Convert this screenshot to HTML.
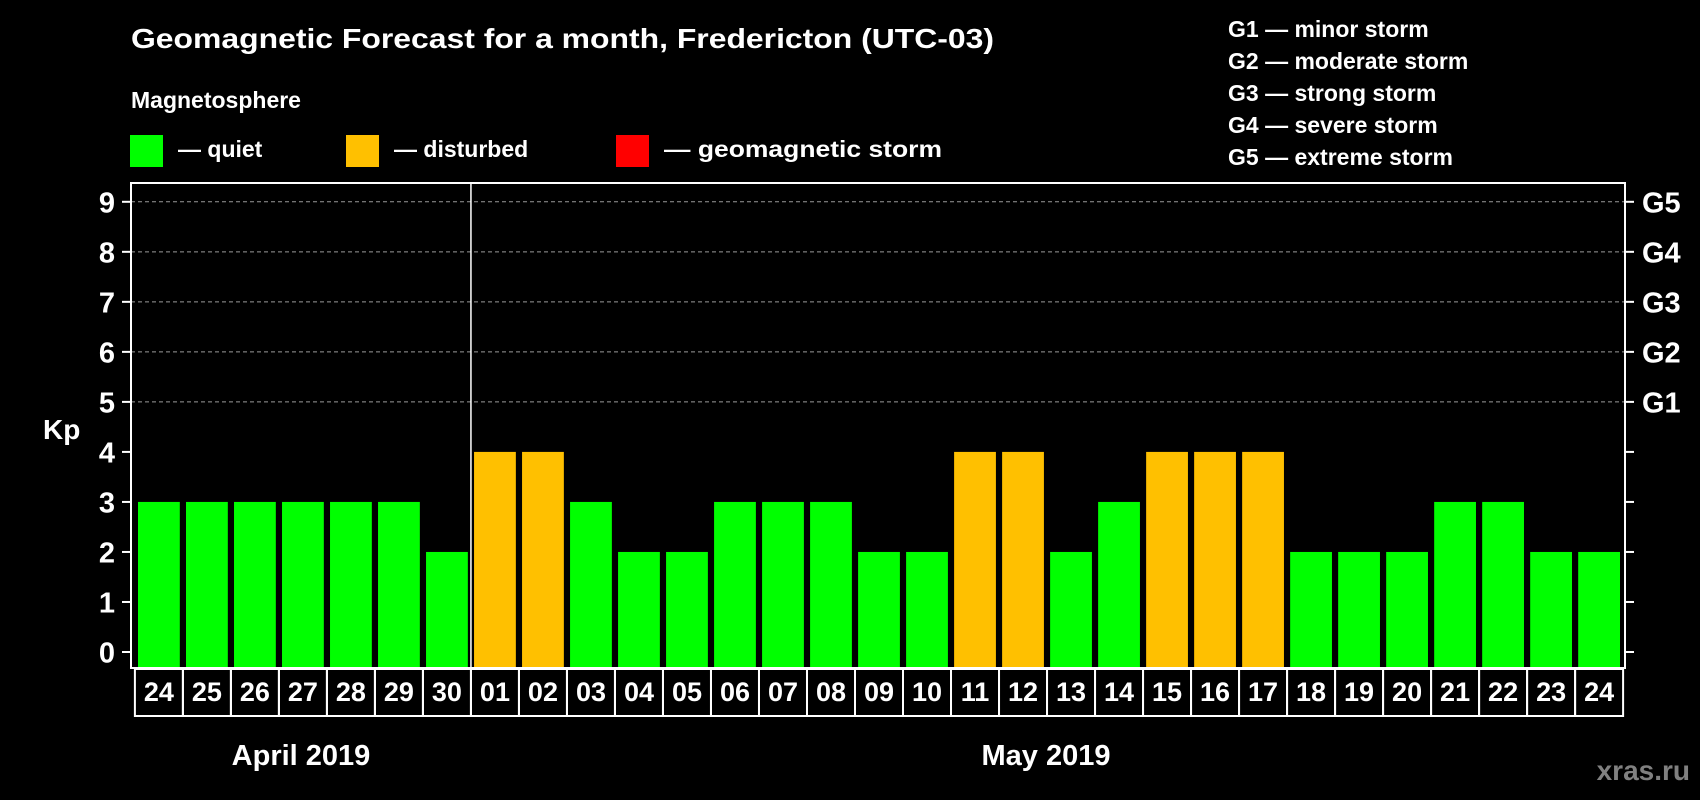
<!DOCTYPE html>
<html><head><meta charset="utf-8"><style>
html,body{margin:0;padding:0;background:#000;}
svg{display:block;font-family:"Liberation Sans",Arial,sans-serif;font-weight:bold;}
</style></head><body>
<svg id="chart" width="1700" height="800" viewBox="0 0 1700 800">
<rect x="0" y="0" width="1700" height="800" fill="#000"/>
<text x="131" y="48" font-size="28" fill="#fff" textLength="863" lengthAdjust="spacingAndGlyphs">Geomagnetic Forecast for a month, Fredericton (UTC-03)</text>
<text x="131" y="108" font-size="23" fill="#fff">Magnetosphere</text>
<g>
<rect x="130" y="135" width="33" height="32" fill="#00ff00"/>
<text x="178" y="157" font-size="23" fill="#fff">— quiet</text>
<rect x="346" y="135" width="33" height="32" fill="#ffc000"/>
<text x="394" y="157" font-size="23" fill="#fff">— disturbed</text>
<rect x="616" y="135" width="33" height="32" fill="#ff0000"/>
<text x="664" y="157" font-size="23" fill="#fff" textLength="278" lengthAdjust="spacingAndGlyphs">— geomagnetic storm</text>
</g>
<g font-size="23" fill="#fff">
<text x="1228" y="37">G1 — minor storm</text>
<text x="1228" y="69">G2 — moderate storm</text>
<text x="1228" y="101">G3 — strong storm</text>
<text x="1228" y="133">G4 — severe storm</text>
<text x="1228" y="165">G5 — extreme storm</text>
</g>
<g id="grid"></g>
<g id="bars"></g>
<g id="axes"></g>
<text x="43" y="439" font-size="28" fill="#fff">Kp</text>
<text x="301" y="765" font-size="29" fill="#fff" text-anchor="middle">April 2019</text>
<text x="1046" y="765" font-size="29" fill="#fff" text-anchor="middle">May 2019</text>
<text x="1690" y="780" font-size="28" fill="#808080" text-anchor="end">xras.ru</text>
</svg>
<script>
const days = ["24","25","26","27","28","29","30","01","02","03","04","05","06","07","08","09","10","11","12","13","14","15","16","17","18","19","20","21","22","23","24"];
const kpValues = [3,3,3,3,3,3,2,4,4,3,2,2,3,3,3,2,2,4,4,2,3,4,4,4,2,2,2,3,3,2,2];
const yTicks = [0,1,2,3,4,5,6,7,8,9];
const gLabels = ["","","","","","G1","G2","G3","G4","G5"];
const monthBreakIndex = 7;

const NS = "http://www.w3.org/2000/svg";
const L = 131, R = 1625, T = 183, B = 668;
const y0 = 652, y9 = 201.8;
const yScale = v => y0 - (y0 - y9) * v / 9;
const firstX = 138, pitch = (1620 + 6.2 - firstX) / days.length, bw = pitch - 6.2;
const xScale = i => firstX + i * pitch;
function mk(tag, attrs, parent) { const e = document.createElementNS(NS, tag); for (const k in attrs) e.setAttribute(k, attrs[k]); parent.appendChild(e); return e; }
const grid = document.getElementById('grid'), bars = document.getElementById('bars'), axes = document.getElementById('axes');

yTicks.forEach((v, i) => {
  const y = yScale(v);
  if (v >= 5) {
    const g = mk('line', {x1: L, x2: R, y1: y, y2: y, stroke: '#999', 'stroke-width': 1, 'stroke-dasharray': '4,3'}, grid);
    
    
  }
  const t1 = mk('line', {x1: L - 9, x2: L, y1: y, y2: y, stroke: '#fff', 'stroke-width': 2}, axes);
  
  
  const t2 = mk('line', {x1: R, x2: R + 9, y1: y, y2: y, stroke: '#fff', 'stroke-width': 2}, axes);
  
  
  const lb = mk('text', {x: 115, y: y + 10.5, 'font-size': 29, fill: '#fff', 'text-anchor': 'end'}, axes);
  lb.textContent = v;
  
  
  if (gLabels[i]) {
    const gl = mk('text', {x: 1642, y: y + 10.5, 'font-size': 29, fill: '#fff'}, axes);
    gl.textContent = gLabels[i];
    
    
  }
});

kpValues.forEach((v, i) => {
  const x = xScale(i);
  const b = mk('rect', {x: x, y: yScale(v), width: bw, height: B - yScale(v), fill: v >= 5 ? '#ff0000' : (v >= 4 ? '#ffc000' : '#00ff00')}, bars);
  
  
  const cx = x + bw / 2;
  const cell = mk('rect', {x: cx - pitch / 2, y: 669, width: pitch, height: 47, fill: 'none', stroke: '#fff', 'stroke-width': 2}, axes);
  
  
  const t = mk('text', {x: cx, y: 701, 'font-size': 27, fill: '#fff', 'text-anchor': 'middle'}, axes);
  t.textContent = days[i];
  
  
});

const frame = mk('rect', {x: L, y: T, width: R - L, height: B - T, fill: 'none', stroke: '#fff', 'stroke-width': 2}, axes);


const dx = xScale(monthBreakIndex) - 3.1;
const div = mk('line', {x1: dx, x2: dx, y1: T, y2: B, stroke: '#fff', 'stroke-width': 1.5}, axes);


</script>
</body></html>
